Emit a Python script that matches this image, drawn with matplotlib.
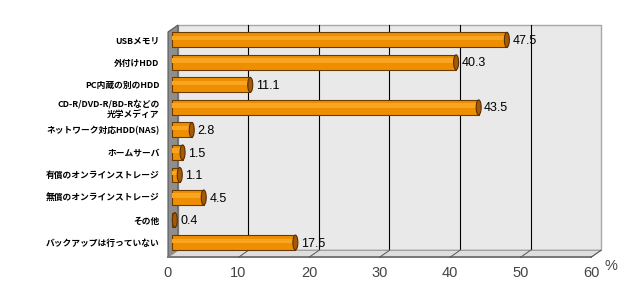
import matplotlib
matplotlib.use("Agg")
import matplotlib.pyplot as plt
from matplotlib.patches import Polygon, Rectangle, Ellipse

categories = [
    "USBメモリ",
    "外付けHDD",
    "PC内蔵の別のHDD",
    "CD-R/DVD-R/BD-Rなどの\n光学メディア",
    "ネットワーク対応HDD(NAS)",
    "ホームサーバ",
    "有償のオンラインストレージ",
    "無償のオンラインストレージ",
    "その他",
    "バックアップは行っていない",
]
values = [47.5, 40.3, 11.1, 43.5, 2.8, 1.5, 1.1, 4.5, 0.4, 17.5]
xticks = [0, 10, 20, 30, 40, 50, 60]

fig = plt.figure(figsize=(6.4, 3.04), dpi=100)
ax = fig.add_axes([168 / 640, 50.2 / 304, 423 / 640, 225.3 / 304])
n = len(categories)
ax.set_xlim(0, 60)
ax.set_ylim(n - 0.5, -0.5)


def px(dx, dy):
    # pixel offset -> data offset
    o = ax.transData.transform((0, 0))
    p = ax.transData.inverted().transform((o[0] + dx, o[1] + dy))
    return p[0], p[1]


fx, fy = px(0, -3.5)   # front plane
bkx, bky = px(10, 3.5)  # back plane
top, bot = -0.5, n - 0.5

# back wall
ax.add_patch(Rectangle((bkx, top + bky), 60, bot - top, facecolor="#e9e9e9",
                       edgecolor="#a8a8a8", lw=1, zorder=0, clip_on=False))
for x in xticks[1:-1]:
    ax.plot([x + bkx, x + bkx], [top + bky, bot + bky], color="black", lw=0.8,
            zorder=1, clip_on=False)

# left wall
ax.add_patch(Polygon([(fx, top + fy), (bkx, top + bky), (bkx, bot + bky), (fx, bot + fy)],
                     closed=True, facecolor="#8e8e8e", edgecolor="#555555", lw=0.8,
                     zorder=2, clip_on=False))
# floor
ax.add_patch(Polygon([(fx, bot + fy), (60 + fx, bot + fy), (60 + bkx, bot + bky), (bkx, bot + bky)],
                     closed=True, facecolor="#dedede", edgecolor="#9a9a9a", lw=0.8,
                     zorder=2, clip_on=False))
ax.plot([fx, 60 + fx], [bot + fy, bot + fy], color="#777777", lw=1.4, zorder=3, clip_on=False)
for x in xticks[1:]:
    ax.plot([x + fx, x + bkx], [bot + fy, bot + bky], color="#555555", lw=0.7,
            zorder=3, clip_on=False)

# bars
bx, _ = px(4, 0)
capw, _ = px(5, 0)
gap, _ = px(3, 0)
h = 0.66
ax.barh(range(n), values, left=bx, height=h, color="#ee8f02", edgecolor="#6b3a00",
        lw=0.8, zorder=4)
ax.barh([i - 0.08 for i in range(n)], values, left=bx, height=h * 0.3,
        color="#f9a522", lw=0, zorder=5)
for i, v in enumerate(values):
    ax.add_patch(Ellipse((bx + v, i), capw, h, facecolor="#a65a08", edgecolor="#5a3000",
                         lw=0.8, zorder=6))
    ax.text(bx + v + capw * 0.5 + gap, i + 0.05, f"{v:.1f}", va="center", ha="left",
            fontsize=9, family="Liberation Sans", zorder=7)

ax.set_yticks(range(n))
ax.set_yticklabels(categories, fontsize=6.3, family=["Noto Sans CJK JP", "DejaVu Sans"],
                   fontweight="bold", ha="right")
ax.set_xticks(xticks)
ax.set_xticklabels([str(x) for x in xticks], fontsize=10.5, family="Liberation Sans",
                   color="#444444")
ax.tick_params(axis="y", length=0, pad=6)
ax.tick_params(axis="x", length=0, pad=9)
for s in ax.spines.values():
    s.set_visible(False)
ax.patch.set_visible(False)
ax.annotate("%", xy=(60, bot), xycoords="data", xytext=(10, -9), textcoords="offset points",
            fontsize=10.5, family="Liberation Sans", color="#444444", va="center")

fig.savefig("out.png", dpi=100)
